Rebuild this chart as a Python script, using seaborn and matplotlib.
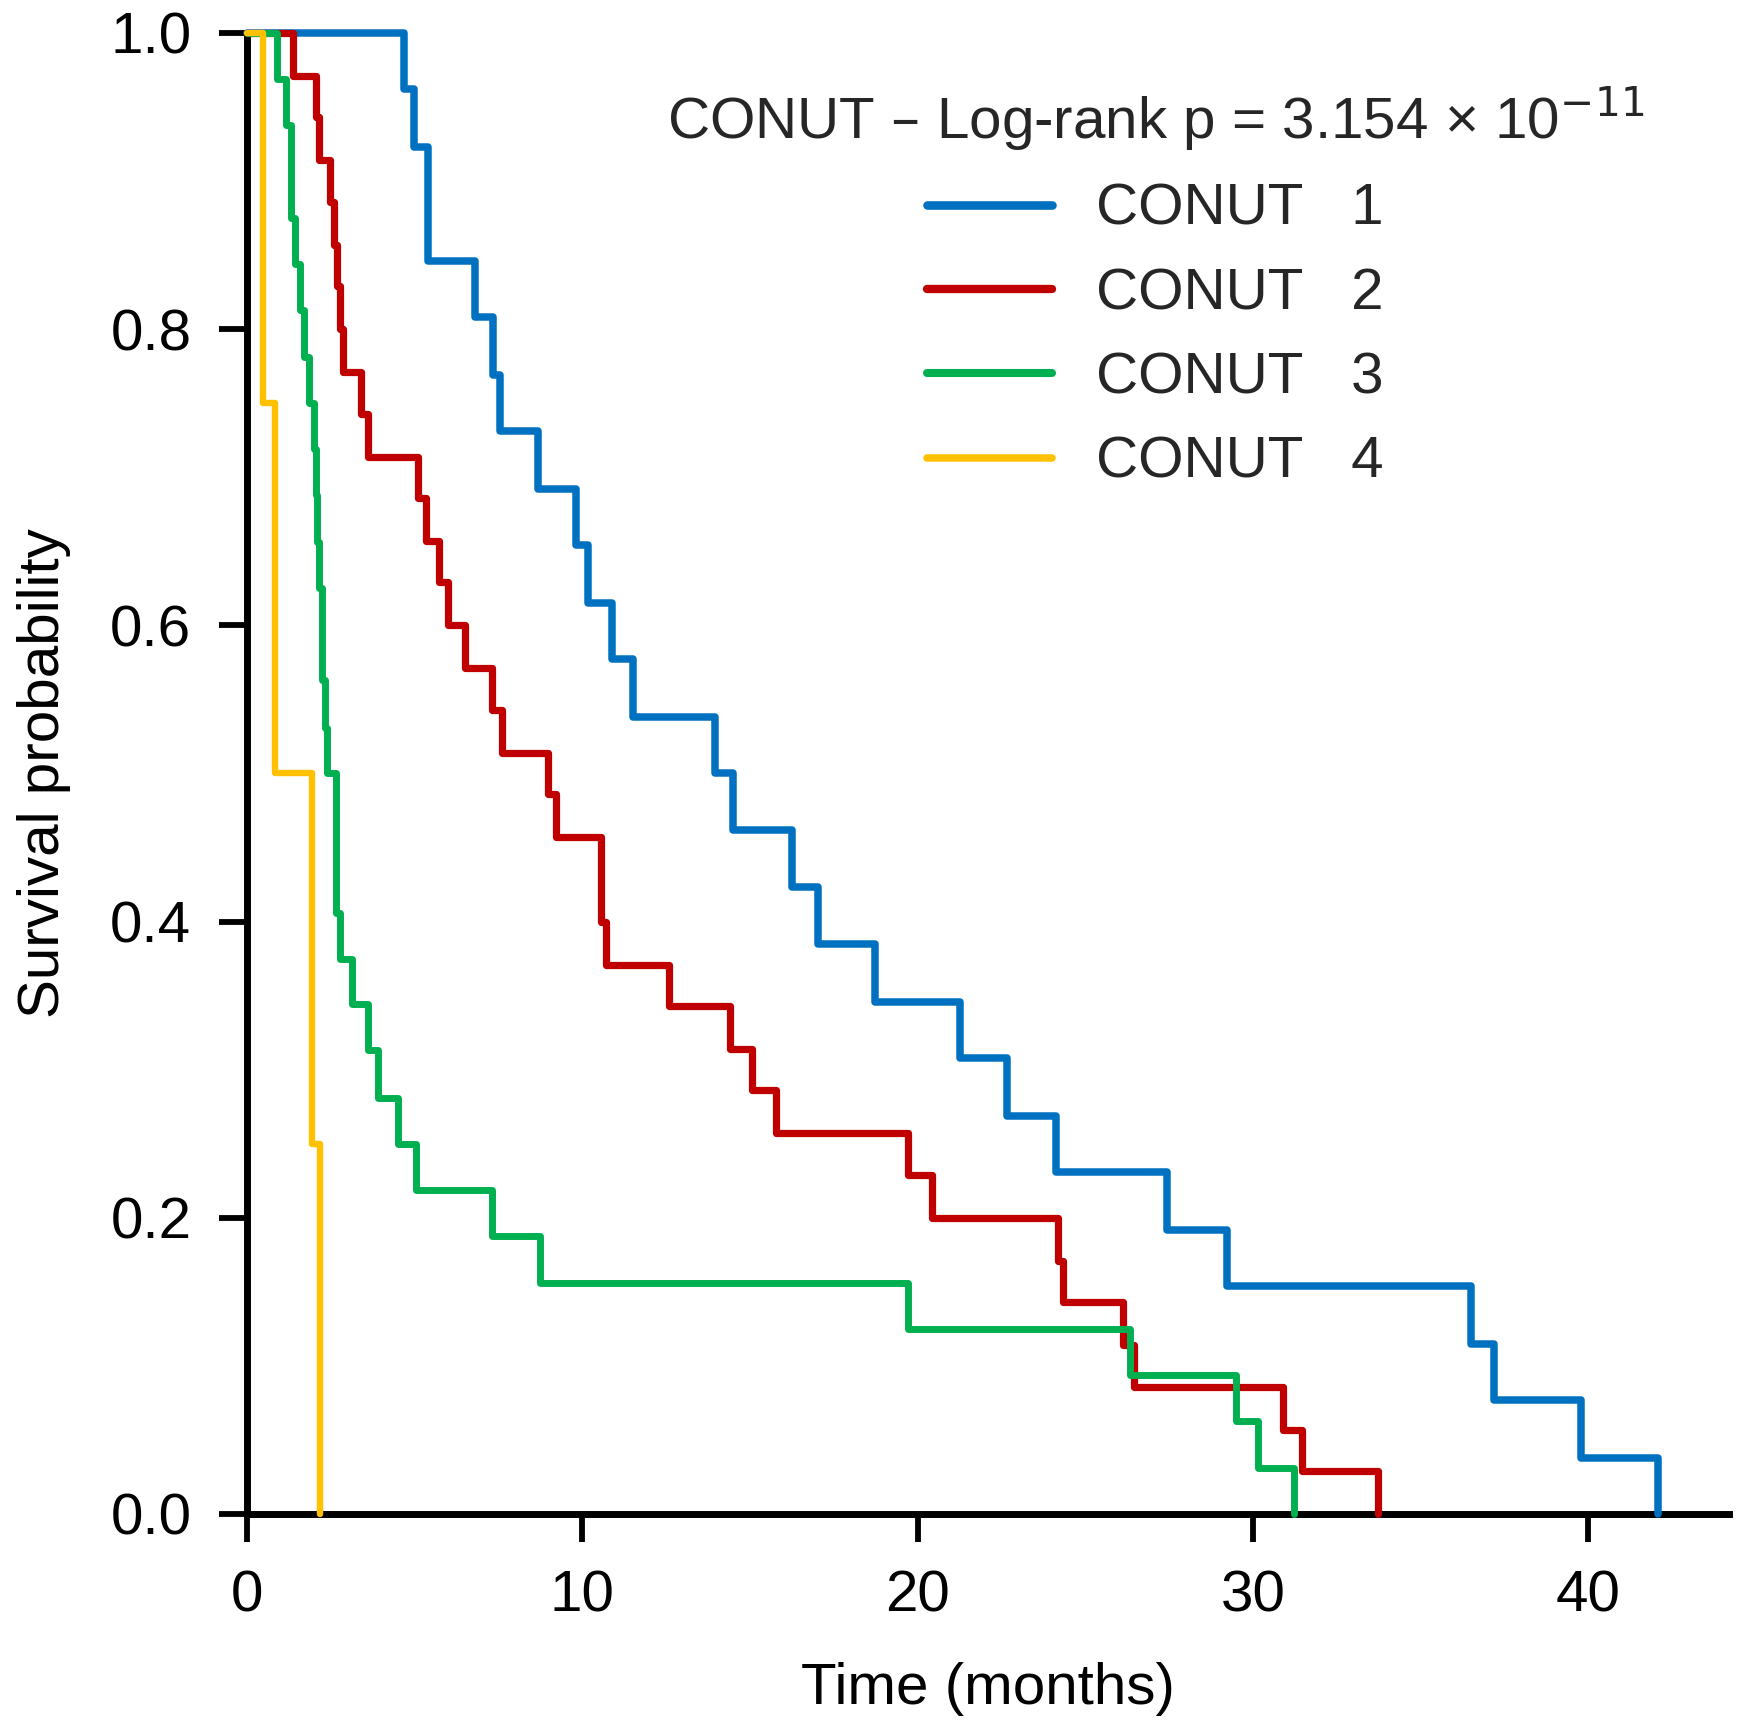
import numpy as np
import pandas as pd
import matplotlib
matplotlib.use('Agg')
import matplotlib.pyplot as plt
import seaborn as sns

# Kaplan-Meier steps (time in months, survival after each step)
groups = ['CONUT   1', 'CONUT   2', 'CONUT   3', 'CONUT   4']
colors = ['#0070C0', '#C00000', '#00B050', '#FFC000']
widths = [5.4, 5.2, 5.0, 4.6]

blue_t = [0, 4.68, 4.97, 5.40, 6.79, 7.33, 7.55, 8.67, 9.81, 10.16, 10.89, 11.52, 13.97,
          14.51, 16.26, 17.03, 18.74, 21.25, 22.67, 24.12, 27.45, 29.24, 36.50, 37.20,
          39.79, 42.07]
blue_s = [1.0, 0.962, 0.923, 0.846, 0.808, 0.769, 0.731, 0.692, 0.654, 0.615, 0.577, 0.538,
          0.500, 0.462, 0.423, 0.385, 0.346, 0.308, 0.269, 0.231, 0.192, 0.154, 0.115,
          0.077, 0.038, 0.0]

red_t = [0, 1.38, 2.05, 2.15, 2.47, 2.59, 2.69, 2.77, 2.87, 3.41, 3.61, 5.10, 5.35, 5.74,
         5.99, 6.49, 7.30, 7.60, 8.97, 9.22, 10.56, 10.70, 12.59, 14.41, 15.07, 15.79,
         19.70, 20.43, 24.19, 24.35, 26.14, 26.45, 30.91, 31.45, 33.72]
red_s = [1.0, 0.971, 0.943, 0.914, 0.886, 0.857, 0.829, 0.800, 0.771, 0.743, 0.714, 0.686,
         0.657, 0.629, 0.600, 0.571, 0.543, 0.514, 0.486, 0.457, 0.400, 0.371, 0.343,
         0.314, 0.286, 0.257, 0.229, 0.200, 0.171, 0.143, 0.114, 0.086, 0.057, 0.029, 0.0]

green_t = [0, 0.91, 1.18, 1.30, 1.43, 1.58, 1.69, 1.84, 1.99, 2.05, 2.10, 2.14, 2.25, 2.33,
           2.40, 2.66, 2.77, 3.14, 3.62, 3.92, 4.52, 5.05, 7.32, 8.75, 19.71, 26.34, 29.49,
           30.14, 31.21]
green_s = [1.0, 0.969, 0.938, 0.875, 0.844, 0.813, 0.781, 0.750, 0.719, 0.688, 0.656, 0.625,
           0.563, 0.531, 0.500, 0.406, 0.375, 0.344, 0.313, 0.281, 0.250, 0.219, 0.188,
           0.156, 0.125, 0.094, 0.063, 0.031, 0.0]

yellow_t = [0, 0.47, 0.83, 1.93, 2.18]
yellow_s = [1.0, 0.75, 0.50, 0.25, 0.0]

x_ticks = [0, 10, 20, 30, 40]
y_ticks = [0.0, 0.2, 0.4, 0.6, 0.8, 1.0]
title_text = 'CONUT \u2013 Log-rank p = 3.154 \u00d7 10$^{-11}$'

# long table for seaborn
frames = []
for g, t, s in zip(groups, [blue_t, red_t, green_t, yellow_t],
                   [blue_s, red_s, green_s, yellow_s]):
    frames.append(pd.DataFrame({'time': t, 'surv': s, 'group': g}))
df = pd.concat(frames, ignore_index=True)

sns.set_style('ticks')
plt.rcParams['font.family'] = ['Liberation Sans', 'DejaVu Sans']
plt.rcParams['mathtext.fontset'] = 'dejavusans'

fig = plt.figure(figsize=(17.45, 17.35), dpi=100)
ax = fig.add_axes([0.1415, 0.1274, 0.8494, 0.8536])

for g, c in zip(groups, colors):
    sns.lineplot(data=df[df['group'] == g], x='time', y='surv', color=c,
                 drawstyle='steps-post', estimator=None, label=g, ax=ax,
                 clip_on=False, zorder=3)
# line widths differ a little per group in the reference
for line, lw in zip(ax.get_lines(), widths):
    line.set_linewidth(lw)

ax.set_xlim(0, 44.2)
ax.set_ylim(0, 1.0)
ax.set_xticks(x_ticks)
ax.set_xticklabels([str(v) for v in x_ticks])
ax.set_yticks(y_ticks)
ax.set_yticklabels([f'{v:.1f}' for v in y_ticks])

sns.despine(ax=ax)
for side in ['left', 'bottom']:
    ax.spines[side].set_linewidth(5)
    ax.spines[side].set_color('black')
ax.tick_params(axis='both', length=20, width=4.2, color='black', labelsize=42,
               labelcolor='black', pad=20)

ax.set_xlabel('Time (months)', fontsize=42, labelpad=28, color='black')
ax.set_ylabel('Survival probability', fontsize=42, labelpad=28, color='black')

leg = ax.legend(title=title_text, loc='upper left', frameon=False, fontsize=42,
                title_fontsize=42, bbox_to_anchor=(0.382, 0.9515),
                bbox_transform=fig.transFigure, borderpad=0, borderaxespad=0,
                handlelength=2.15, handletextpad=0.75, labelspacing=0.52)
for line, lw in zip(leg.get_lines(), widths):
    line.set_linewidth(lw + 0.8)

fig.savefig('out.png', dpi=100, facecolor='white')
